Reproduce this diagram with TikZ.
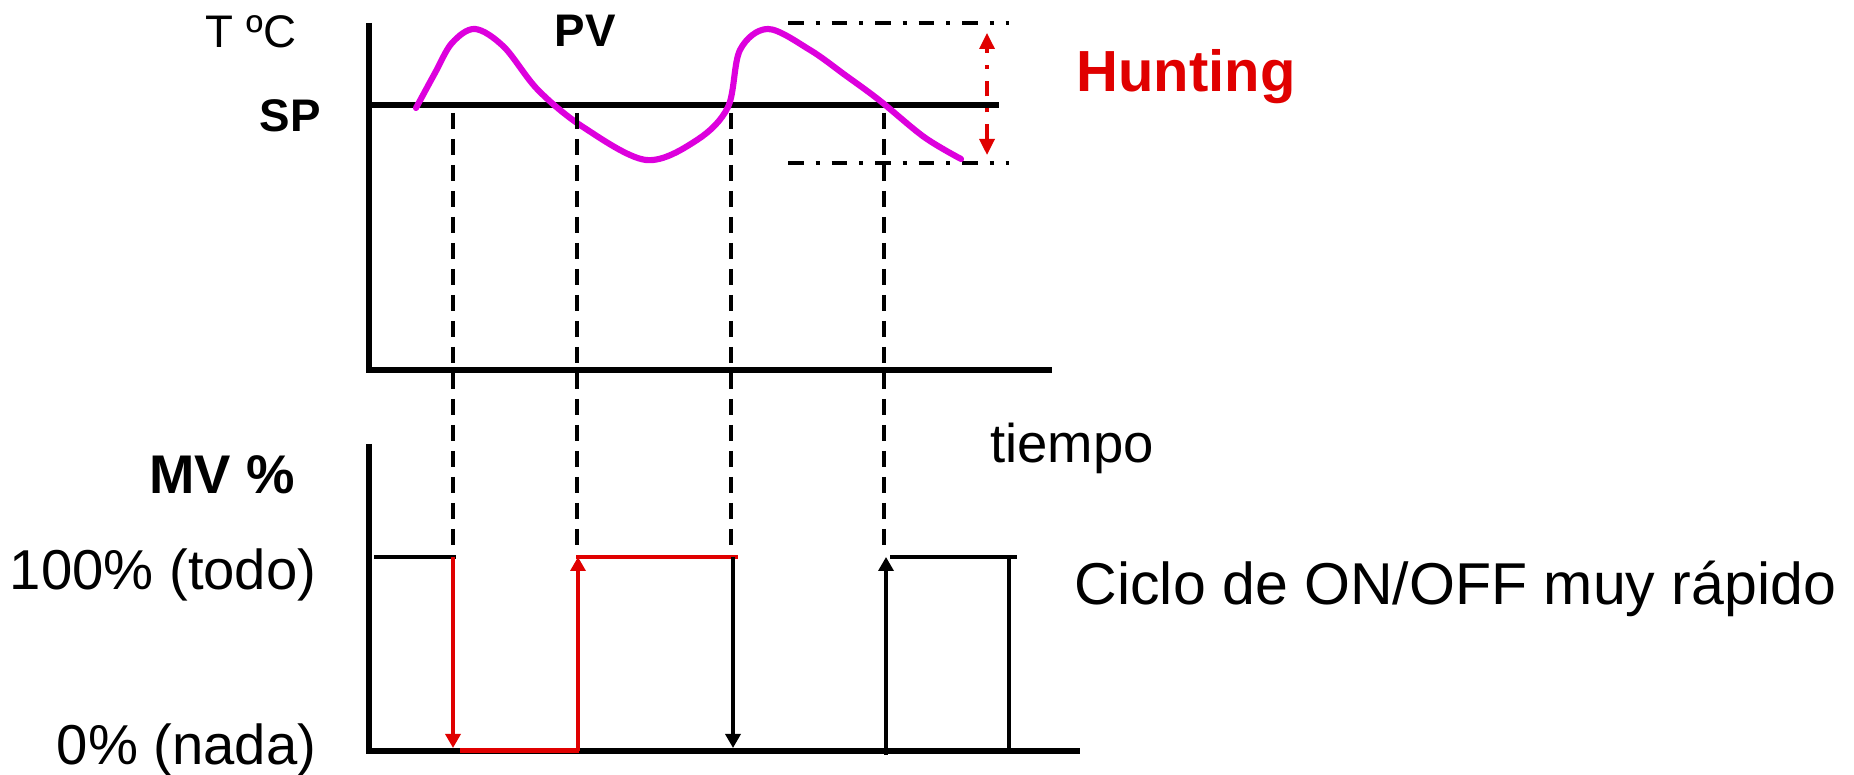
\documentclass[tikz,border=0pt]{standalone}
\usepackage{fontspec}
\setmainfont{Liberation Sans}
\usetikzlibrary{arrows.meta}
\definecolor{pvcurve}{RGB}{221,0,221}
\definecolor{hunt}{RGB}{224,0,0}

\begin{document}
\begin{tikzpicture}[
    axis/.style={line width=1.9pt},
    guide/.style={line width=0.95pt, dash pattern=on 0.16cm off 0.10cm},
    band/.style={line width=1.15pt, dash pattern=on 0.155cm off 0.12cm on 0.04cm off 0.12cm},
    mvlevel/.style={line width=1.35pt},
    onoff/.style={line width=0.95pt, -{Triangle[length=0.14cm,width=0.15cm]}},
    lbl/.style={inner sep=0pt, font=\fontsize{16}{19}\selectfont},
    smalllbl/.style={inner sep=0pt, font=\fontsize{13}{15}\selectfont},
    boldlbl/.style={inner sep=0pt, font=\fontsize{13}{15}\selectfont\bfseries},
  ]
  \useasboundingbox (0,0) rectangle (18.54,7.75);

  \begin{scope}
    % Axes
    \draw[axis] (3.69,7.52) -- (3.69,4.05) -- (10.52,4.05);
    \node[smalllbl, anchor=base] (temp) at (2.51,7.27) {T ºC};

    % Set point
    \draw[axis] (3.69,6.70) -- (9.99,6.70);
    \node[boldlbl, anchor=base] (sp) at (2.90,6.43) {SP};

    % Hunting band
    \draw[band] (7.88,7.52) -- (10.09,7.52);
    \draw[band] (7.88,6.12) -- (10.09,6.12);
    \draw[band, line width=0.95pt, hunt, {Triangle[length=0.16cm,width=0.15cm]}-{Triangle[length=0.16cm,width=0.15cm]}] (9.87,6.20) -- (9.87,7.42);
    \node[inner sep=0pt, anchor=base, text=hunt, font=\fontsize{16.5}{19}\selectfont\bfseries] (hunting) at (11.86,6.83) {Hunting};

    % Process value
    \draw[pvcurve, line width=1.75pt, line cap=round] plot[smooth, tension=0.55] coordinates {
      (4.16,6.67) (4.35,7.02) (4.52,7.32) (4.75,7.46) (5.04,7.28) (5.38,6.85)
      (5.83,6.48) (6.46,6.15) (6.97,6.35) (7.28,6.68) (7.40,7.25) (7.68,7.46)
      (8.10,7.25) (8.45,7.00) (8.79,6.75) (9.24,6.38) (9.61,6.16)};
    \node[boldlbl, anchor=base] (pv) at (5.85,7.28) {PV};

    % Switching instants
    \foreach \t in {4.53,5.77,7.31,8.84}
      \draw[guide] (\t,6.62) -- (\t,2.20);
    \node[lbl, font=\fontsize{15.5}{18}\selectfont, anchor=base] (tiempo) at (10.72,3.12) {tiempo};
  \end{scope}

  \begin{scope}
    % Axes
    \draw[axis] (3.69,3.31) -- (3.69,0.24) -- (10.80,0.24);
    \node[lbl, font=\fontsize{15.5}{18}\selectfont\bfseries, anchor=base] (mv) at (2.22,2.81) {MV \%};
    \node[lbl, anchor=base east] (todo) at (3.17,1.85) {100\% (todo)};
    \node[lbl, anchor=base east] (nada) at (3.17,0.10) {0\% (nada)};

    % MV levels
    \draw[mvlevel] (3.74,2.18) -- (4.56,2.18);
    \draw[mvlevel, hunt] (4.60,0.245) -- (5.79,0.245);
    \draw[mvlevel, hunt] (5.76,2.18) -- (7.38,2.18);
    \draw[mvlevel] (8.90,2.18) -- (10.17,2.18);
    \draw[mvlevel] (10.09,2.18) -- (10.09,0.27);

    % ON/OFF switching
    \draw[onoff, hunt] (4.53,2.18) -- (4.53,0.27);
    \draw[onoff, hunt] (5.78,0.24) -- (5.78,2.18);
    \draw[onoff] (7.33,2.18) -- (7.33,0.27);
    \draw[onoff] (8.86,0.20) -- (8.86,2.18);
    \node[lbl, font=\fontsize{16.8}{19}\selectfont, anchor=base west] (ciclo) at (10.74,1.70) {Ciclo de ON/OFF muy rápido};
  \end{scope}
\end{tikzpicture}
\end{document}
